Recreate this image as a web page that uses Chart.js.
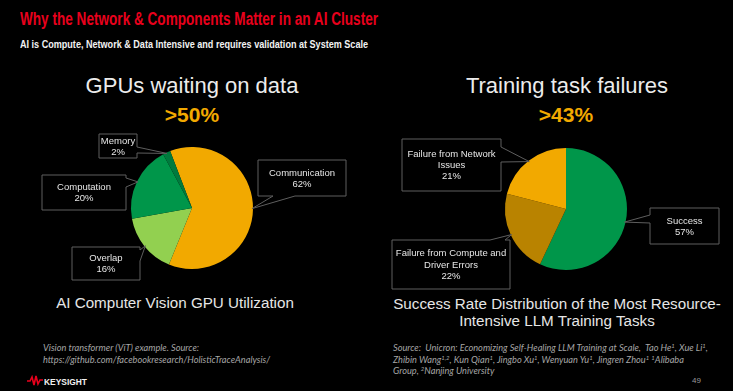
<!DOCTYPE html>
<html>
<head>
<meta charset="utf-8">
<script src="https://cdn.jsdelivr.net/npm/chart.js@4"></script>
<style>
  html, body { margin: 0; padding: 0; background: #000; }
  #slide { position: relative; width: 733px; height: 391px; overflow: hidden; background: #000; font-family: "Liberation Sans", Arial, sans-serif; }
  .t { position: absolute; white-space: nowrap; line-height: 1; }
  .c { text-align: center; }
  canvas { position: absolute; left: 0; top: 0; }
  .note { position: absolute; font-family: Lato, "Open Sans", sans-serif; font-style: italic; font-size: 9.2px; line-height: 11.7px; color: #a6a6a6; white-space: nowrap; }
  .note sup { font-size: 6px; vertical-align: 3px; line-height: 0; }
</style>
</head>
<body>
<div id="slide">
  <div class="t" id="title" style="left:20px; top:10px; font-family:'Liberation Sans Narrow', Arial, sans-serif; font-weight:bold; font-size:18px; color:#e8001c; transform-origin:left top;">Why the Network &amp; Components Matter in an AI Cluster</div>
  <div class="t" id="subtitle" style="left:20px; top:39px; font-family:'Liberation Sans Narrow', Arial, sans-serif; font-weight:bold; font-size:11.5px; color:#f2f2f2; transform-origin:left top;">AI is Compute, Network &amp; Data Intensive and requires validation at System Scale</div>

  <div class="t c" style="left:-8px; width:400px; top:75px; font-size:22px; color:#ececec;">GPUs waiting on data</div>
  <div class="t c" style="left:-8px; width:400px; top:104px; font-size:21px; font-weight:bold; color:#f2a900;">&gt;50%</div>
  <div class="t c" style="left:367px; width:400px; top:75px; font-size:22px; color:#ececec;">Training task failures</div>
  <div class="t c" style="left:366px; width:400px; top:104px; font-size:21px; font-weight:bold; color:#f2a900;">&gt;43%</div>

  <div class="t c" style="left:-25px; width:400px; top:295px; font-size:15.2px; color:#e6e6e6;">AI Computer Vision GPU Utilization</div>
  <div class="t c" style="left:357px; width:400px; top:295px; font-size:15.2px; color:#e6e6e6; line-height:17px;">Success Rate Distribution of the Most Resource-<br>Intensive LLM Training Tasks</div>

  <div class="note" style="left:43px; top:342px;">Vision transformer (ViT) example. Source:<br>https://github.com/facebookresearch/HolisticTraceAnalysis/</div>
  <div class="note" style="left:393px; top:342px;">Source:&nbsp; Unicron: Economizing Self-Healing LLM Training at Scale,&nbsp; Tao He<sup>1</sup>, Xue Li<sup>1</sup>,<br>Zhibin Wang<sup>1,2</sup>, Kun Qian<sup>1</sup>, Jingbo Xu<sup>1</sup>, Wenyuan Yu<sup>1</sup>, Jingren Zhou<sup>1</sup> <sup>1</sup>Alibaba<br>Group, <sup>2</sup>Nanjing University</div>

  <svg style="position:absolute; left:27px; top:375px;" width="16" height="11" viewBox="0 0 16 11">
    <polyline points="0,6 3,6 5,2 7,10 9,1 11,9 13,5 16,5" fill="none" stroke="#e8001c" stroke-width="1.6" stroke-linejoin="miter"/>
  </svg>
  <div class="t" id="brand" style="left:44px; top:377px; font-size:9.5px; font-weight:bold; color:#f2f2f2; transform-origin:left top;">KEYSIGHT</div>
  <div class="t" style="left:692px; top:377px; font-size:8px; color:#9a9a9a;">49</div>

  <canvas id="gpuChart" width="733" height="391"></canvas>
  <canvas id="taskChart" width="733" height="391"></canvas>
</div>

<script>
// GPU utilization (left pie)
const gpuLabels = ['Communication', 'Overlap', 'Computation', 'Memory'];
const gpuValues = [62, 16, 20, 2];
const gpuLines = [['Communication'], ['Overlap'], ['Computation'], ['Memory']];

// Training task outcomes (right pie)
const taskLabels = ['Success', 'Failure from Compute and Driver Errors', 'Failure from Network Issues'];
const taskValues = [57, 22, 21];
const taskLines = [['Success'], ['Failure from Compute and', 'Driver Errors'], ['Failure from Network', 'Issues']];

// squeeze the narrow headline text to the width it has on the slide
function fitWidth(id, target) {
    const el = document.getElementById(id);
    const w = el.getBoundingClientRect().width;
    el.style.transform = 'scaleX(' + (target / w) + ')';
}
fitWidth('title', 358);
fitWidth('subtitle', 348);
fitWidth('brand', 43);

// callout boxes: rect + the side the wedge leaves from (a..c along that side)
const gpuBoxes = [
    { x: 258, y: 160, w: 88, h: 36, side: 'bottom', a: 15, c: 37 },
    { x: 72, y: 247, w: 68, h: 33, side: 'right', a: 3, c: 14 },
    { x: 42, y: 175, w: 84, h: 35, side: 'right', a: 3, c: 12 },
    { x: 99, y: 134, w: 38, h: 24, side: 'right', a: 13, c: 19 }
];
const taskBoxes = [
    { x: 650, y: 208, w: 69, h: 36, side: 'left', a: 7, c: 15 },
    { x: 392, y: 240, w: 118, h: 49, side: 'top', a: 98, c: 113 },
    { x: 402, y: 139, w: 99, h: 52, side: 'right', a: 8, c: 23 }
];

function calloutPath(ctx, b, tip) {
    const { x, y, w, h, side, a, c } = b;
    ctx.beginPath();
    ctx.moveTo(x, y);
    if (side === 'top') { ctx.lineTo(x + a, y); ctx.lineTo(tip.x, tip.y); ctx.lineTo(x + c, y); }
    ctx.lineTo(x + w, y);
    if (side === 'right') { ctx.lineTo(x + w, y + a); ctx.lineTo(tip.x, tip.y); ctx.lineTo(x + w, y + c); }
    ctx.lineTo(x + w, y + h);
    if (side === 'bottom') { ctx.lineTo(x + c, y + h); ctx.lineTo(tip.x, tip.y); ctx.lineTo(x + a, y + h); }
    ctx.lineTo(x, y + h);
    if (side === 'left') { ctx.lineTo(x, y + c); ctx.lineTo(tip.x, tip.y); ctx.lineTo(x, y + a); }
    ctx.closePath();
}

const calloutPlugin = {
    id: 'callouts',
    afterDatasetsDraw(chart, args, opts) {
        const ctx = chart.ctx;
        const meta = chart.getDatasetMeta(0);
        const values = chart.data.datasets[0].data;
        meta.data.forEach((arc, i) => {
            const p = arc.getProps(['x', 'y', 'startAngle', 'endAngle', 'outerRadius'], true);
            const mid = (p.startAngle + p.endAngle) / 2;
            const r = p.outerRadius - 1;
            const tip = { x: p.x + Math.cos(mid) * r, y: p.y + Math.sin(mid) * r };
            const b = opts.boxes[i];
            ctx.save();
            calloutPath(ctx, b, tip);
            ctx.strokeStyle = '#5e5e5e';
            ctx.lineWidth = 1;
            ctx.stroke();
            const lines = opts.lines[i].concat([values[i] + '%']);
            ctx.fillStyle = '#e6e6e6';
            ctx.font = '9.5px "Liberation Sans", Arial, sans-serif';
            ctx.textAlign = 'center';
            ctx.textBaseline = 'middle';
            const lh = 11.2;
            const cy = b.y + b.h / 2 - (lines.length - 1) * lh / 2;
            lines.forEach((t, k) => ctx.fillText(t, b.x + b.w / 2, cy + k * lh + 0.5));
            ctx.restore();
        });
    }
};

function pieOptions(rotation, padding, boxes, lines) {
    return {
        responsive: false,
        animation: false,
        rotation: rotation,
        layout: { padding: padding },
        plugins: {
            legend: { display: false },
            tooltip: { enabled: false },
            callouts: { boxes: boxes, lines: lines }
        }
    };
}

new Chart(document.getElementById('gpuChart'), {
    type: 'pie',
    data: {
        labels: gpuLabels,
        datasets: [{
            data: gpuValues,
            backgroundColor: ['#f2a900', '#92d050', '#00964a', '#007a3d'],
            borderWidth: 0
        }]
    },
    options: pieOptions(-21, { left: 131, top: 147, right: 480, bottom: 122 }, gpuBoxes, gpuLines),
    plugins: [calloutPlugin]
});

new Chart(document.getElementById('taskChart'), {
    type: 'pie',
    data: {
        labels: taskLabels,
        datasets: [{
            data: taskValues,
            backgroundColor: ['#00964a', '#b98300', '#f2a900'],
            borderWidth: 0
        }]
    },
    options: pieOptions(0, { left: 505, top: 148, right: 106, bottom: 121 }, taskBoxes, taskLines),
    plugins: [calloutPlugin]
});
</script>
</body>
</html>
